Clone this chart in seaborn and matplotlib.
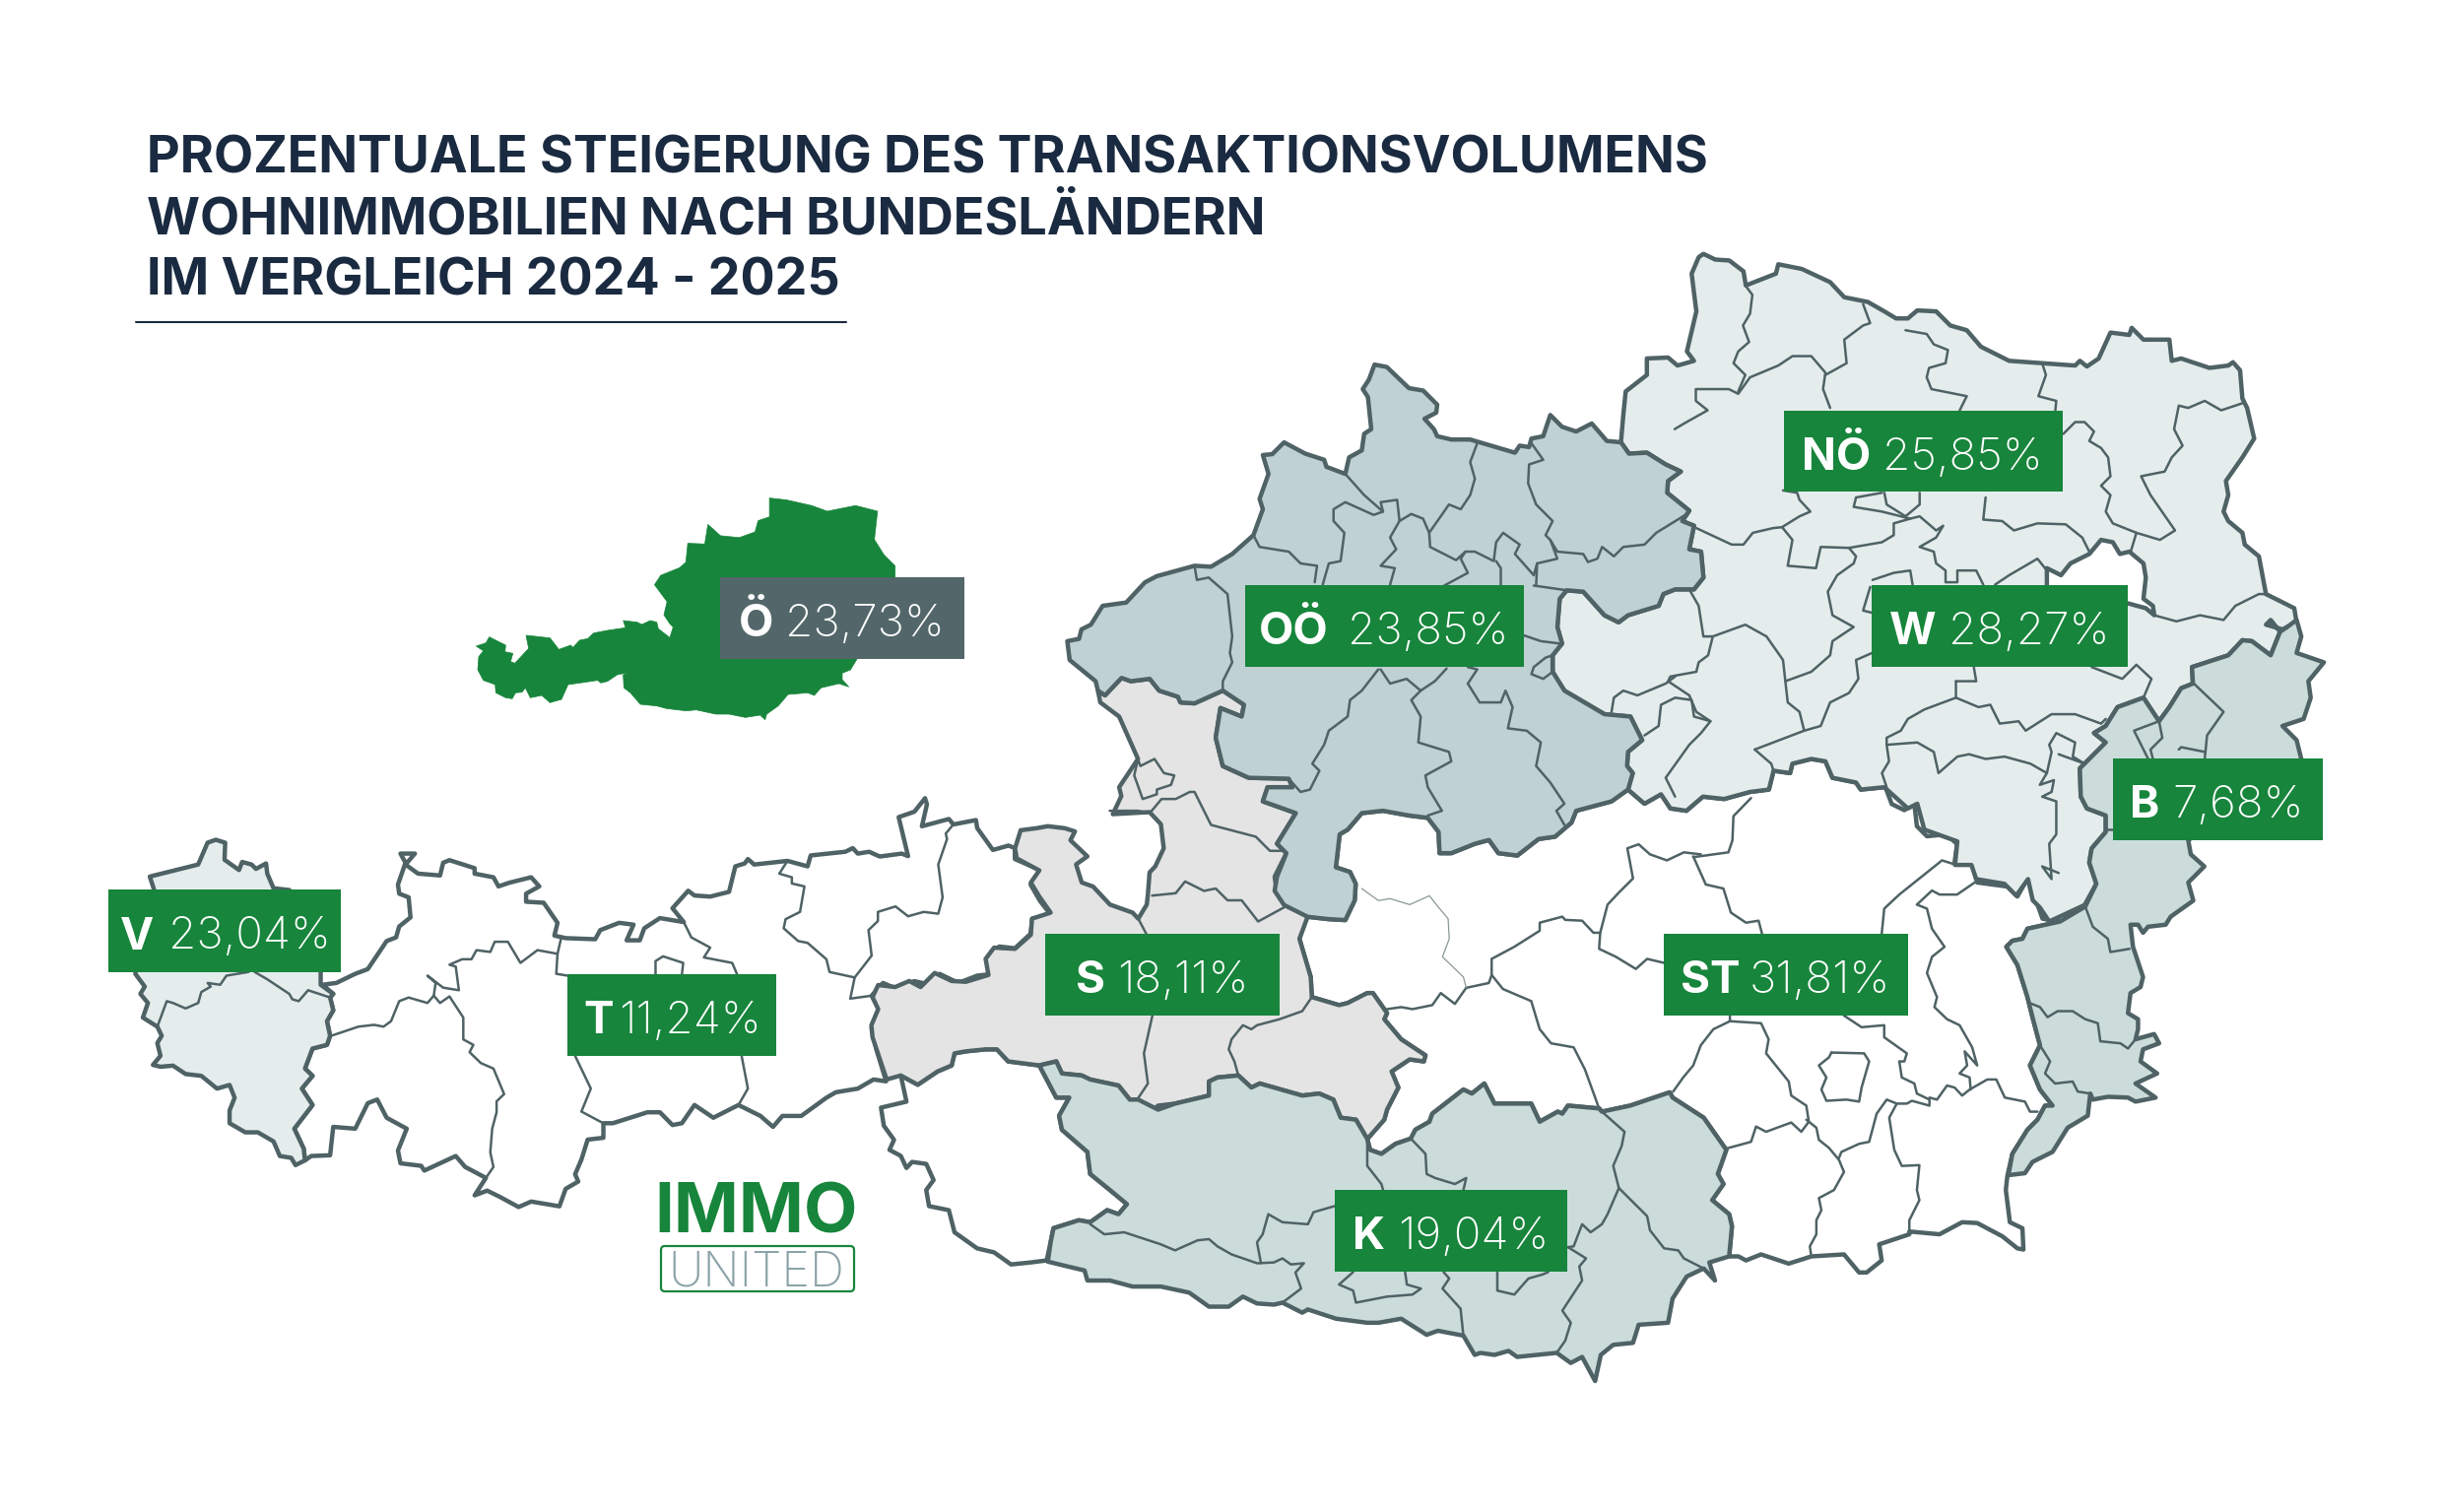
import matplotlib
matplotlib.use("Agg")
import matplotlib.pyplot as plt
from matplotlib.patches import FancyBboxPatch, Rectangle
import seaborn as sns

# ---------- data ----------
codes = ["V", "T", "S", "OÖ", "K", "ST", "NÖ", "W", "B", "Ö"]
values = [23.04, 11.24, 18.11, 23.85, 19.04, 31.81, 25.85, 28.27, 7.68, 23.73]
title_lines = ["PROZENTUALE STEIGERUNG DES TRANSAKTIONSVOLUMENS",
               "WOHNIMMOBILIEN NACH BUNDESLÄNDERN",
               "IM VERGLEICH 2024 - 2025"]

# ---------- crop frames used while tracing the outlines ----------
def frame(x0, y0, w, h):
    return lambda pts: [(x0 + a * w / 1568, y0 + b * h / 1568) for a, b in pts]
Z1 = frame(100, 100, 1000, 600)
Z2 = frame(1050, 230, 750, 750)
Z3 = frame(1700, 230, 750, 750)
Z4 = frame(80, 800, 1000, 580)
Z5 = frame(880, 800, 900, 640)
Z6 = frame(1650, 800, 800, 640)
Z7 = lambda pts: [(470 + a / 3, 620 + b / 3) for a, b in pts]

vorarlberg = Z4([(113,243),(190,210),(205,150),(218,142),(233,150),(232,197),(255,225),(260,203),(275,210),(282,222),(298,207),(300,235),(310,275),(335,280),(400,400),(385,505),(385,540),(405,565),(400,575),(405,610),(395,640),(400,680),(395,705),(372,715),(360,770),(372,790),(355,825),(372,870),(343,935),(358,990),(360,1022),(345,1035),(338,1015),(320,1010),(310,970),(285,945),(265,945),(240,920),(240,885),(248,850),(240,815),(220,825),(195,790),(170,785),(150,762),(130,765),(118,760),(130,735),(125,700),(132,680),(125,655),(102,630),(110,590),(98,565),(105,545),(90,510),(100,400),(120,280)])

tirol = Z4([(388,540),(410,535),(440,510),(460,497),(490,420),(505,410),(510,380),(528,355),(525,300),(510,290),(508,265),(520,205),(512,180),(535,180),(520,210),(540,235),(575,240),(580,205),(590,198),(630,220),(630,235),(660,245),(668,270),(685,260),(720,245),(733,270),(712,290),(712,312),(740,315),(762,370),(757,405),(775,412),(822,415),(830,390),(860,370),(883,375),(872,418),(893,418),(900,385),(925,357),(963,368),(945,330),(970,282),(980,295),(1005,298),(1035,285),(1045,215),(1060,207),(1065,195),(1075,210),(1128,200),(1160,215),(1165,185),(1220,175),(1232,165),(1240,180),(1258,175),(1275,188),(1310,180),(1320,187),(1305,80),(1330,65),(1347,28),(1350,45),(1342,105),(1385,85),(1392,100),(1428,88),(1430,110),(1455,170),(1480,158),(1490,165),(1490,195),(1530,225),(1515,265),(1530,310),(1548,350),(1518,358),(1515,400),(1490,440),(1465,435),(1447,465),(1455,510),(1430,515),(1400,535),(1370,510),(1355,540),(1330,530),(1300,550),(1280,535),(1262,570),(1275,610),(1262,660),(1270,720),(1285,805),(1265,800),(1240,825),(1205,835),(1190,850),(1150,900),(1120,900),(1105,930),(1085,900),(1050,870),(1010,905),(980,870),(960,920),(945,925),(925,890),(905,890),(850,920),(835,920),(835,960),(810,965),(800,1020),(790,1060),(795,1080),(775,1100),(765,1148),(720,1135),(700,1150),(670,1122),(650,1105),(630,1118),(648,1070),(615,1040),(600,1010),(550,1050),(545,1037),(512,1030),(508,995),(522,935),(490,905),(475,855),(460,865),(440,935),(405,930),(400,1008),(370,1010),(360,1022),(358,990),(343,935),(372,870),(355,825),(372,790),(360,770),(372,715),(395,705),(400,680),(395,640),(405,610),(400,575),(405,565)])

osttirol = Z5([(60,715),(90,738),(125,705),(150,690),(155,660),(175,655),(210,650),(230,650),(250,680),(305,690),(335,770),(358,770),(340,815),(345,850),(390,905),(395,960),(430,1000),(460,1035),(445,1060),(425,1050),(395,1080),(375,1075),(330,1095),(325,1130),(318,1175),(290,1180),(255,1185),(225,1155),(210,1150),(195,1145),(155,1105),(145,1050),(110,1040),(105,1000),(118,975),(105,935),(80,930),(70,945),(60,915),(40,900),(48,875),(30,840),(25,795),(70,780)])

salzburg = (Z5([(10,520),(20,490),(50,495),(75,480),(95,495),(120,460),(150,480),(175,482),(215,465),(210,425),(225,397),(262,400),(290,365),(292,325),(325,310),(305,270),(290,235),(305,205),(265,175),(262,150),(272,105),(300,100),(320,95),(350,100),(368,108),(360,130),(390,170),(370,190),(380,235),(400,245),(430,290),(470,310),(480,325),(495,290),(497,265),(500,210),(510,195),(525,150),(520,90),(500,60),(435,65),(450,20)])
    + Z2([(180,1190),(220,1130),(180,1040),(140,1010),(135,985),(150,995),(185,958),(205,965),(245,960),(265,985),(305,998),(310,1010),(340,1012),(400,985),(445,1015),(440,1040),(395,1022),(385,1085),(400,1145),(455,1170),(540,1172),(548,1190),(495,1190),(485,1220),(555,1245),(515,1310),(535,1330),(510,1380),(515,1415),(580,1465)])
    + Z5([(765,375),(785,470),(787,520),(835,540),(850,535),(885,510),(895,510),(920,560),(915,575),(945,625),(988,665),(985,680),(960,675),(928,705),(940,745),(920,800),(915,825),(885,873),(865,825),(838,820),(825,775),(800,760),(770,765),(695,735),(680,745),(657,715),(620,720),(605,730),(605,765),(545,785),(515,790),(505,803),(480,775),(465,775),(445,740),(395,725),(380,715),(345,710),(335,680),(305,690),(250,680),(230,650),(210,650),(175,655),(155,660),(150,690),(125,705),(90,738),(60,715),(35,725),(10,620),(8,590),(20,550)]))

kaernten = Z5([(305,690),(335,680),(345,710),(380,715),(395,725),(445,740),(465,775),(480,775),(515,800),(545,785),(605,765),(605,730),(620,720),(657,715),(680,745),(695,735),(770,765),(800,760),(825,775),(838,820),(865,825),(885,873),(890,900),(910,910),(935,885),(962,872),(970,850),(995,830),(1000,810),(1055,750),(1070,760),(1092,735),(1110,785),(1175,785),(1190,830),(1222,805),(1230,810),(1240,790),(1295,797),(1300,805),(1350,790),(1420,757),(1425,770),(1480,820),(1520,900),(1505,960),(1515,985),(1495,1025),(1525,1060),(1530,1090),(1525,1165),(1490,1180),(1500,1225),(1480,1195),(1450,1215),(1425,1270),(1417,1330),(1365,1335),(1355,1380),(1320,1385),(1298,1410),(1288,1475),(1265,1415),(1245,1430),(1220,1405),(1150,1415),(1135,1400),(1110,1410),(1085,1405),(1075,1410),(1055,1362),(1010,1350),(990,1360),(945,1320),(905,1330),(885,1330),(830,1320),(780,1297),(770,1305),(735,1280),(720,1285),(690,1282),(665,1265),(640,1290),(605,1290),(570,1255),(520,1240),(470,1240),(430,1225),(390,1225),(385,1200),(355,1190),(320,1178),(325,1130),(330,1095),(375,1075),(395,1080),(425,1050),(445,1060),(460,1035),(430,1000),(395,960),(390,905),(345,850),(340,815),(358,770),(335,770)])

oberoesterreich = Z2([(70,880),(95,875),(100,855),(120,845),(145,805),(195,798),(235,755),(260,742),(340,720),(375,722),(420,695),(465,655),(485,600),(478,578),(497,525),(485,485),(505,483),(530,458),(575,482),(615,495),(620,510),(660,525),(668,490),(695,475),(700,440),(715,430),(708,362),(697,345),(710,325),(722,293),(748,298),(795,343),(825,348),(855,378),(853,395),(828,408),(848,430),(855,445),(885,452),(925,452),(1020,480),(1030,465),(1050,468),(1055,450),(1080,445),(1095,400),(1120,425),(1150,435),(1183,418),(1215,455),(1245,458),(1262,482),(1300,480),(1340,505),(1372,520),(1345,540),(1343,565),(1390,603),(1375,625),(1400,635),(1390,685),(1415,690),(1420,745),(1400,770),(1360,770),(1335,780),(1325,805),(1260,825),(1240,840),(1210,825),(1165,775),(1130,772),(1115,790),(1110,850),(1120,885),(1100,910),(1100,945),(1125,985),(1210,1035),(1265,1040),(1290,1090),(1260,1115),(1258,1145),(1270,1160),(1260,1195),(1225,1220),(1150,1240),(1140,1265),(1105,1295),(1070,1300),(1025,1335),(985,1330),(965,1302),(935,1310),(885,1330),(860,1330),(858,1285),(835,1255),(795,1250),(740,1240),(695,1245),(665,1280),(648,1290),(640,1360),(670,1370),(682,1395),(680,1430),(660,1472),(625,1470),(580,1465),(530,1440),(510,1410),(515,1380),(535,1330),(515,1310),(555,1245),(485,1220),(495,1190),(548,1190),(540,1172),(455,1170),(400,1145),(385,1085),(395,1022),(440,1040),(445,1015),(400,985),(340,1012),(310,1010),(305,998),(265,985),(245,960),(205,965),(185,958),(150,995),(135,985),(130,965),(75,920)])

noe = (Z2([(1245,458),(1250,400),(1255,350),(1300,315),(1300,280),(1345,278),(1365,295),(1400,285),(1385,265),(1405,180),(1395,100),(1410,65),(1420,58),(1445,70),(1475,72),(1505,95),(1510,125)])
    + Z3([(215,100),(220,80),(270,90),(330,118),(360,150),(410,160),(445,180),(470,195),(495,195),(515,178),(555,180),(585,210),(620,220),(650,255),(710,285),(780,290),(850,295),(860,285),(875,297),(900,280),(925,225),(965,230),(970,215),(995,240),(1050,240),(1055,285),(1075,280),(1135,300),(1175,295),(1185,288),(1200,305),(1205,365),(1215,385),(1230,450),(1205,490),(1170,540),(1175,570),(1165,605),(1175,625),(1205,650),(1210,675),(1240,700),(1255,780),(1315,810),(1320,840),(1290,855),(1255,845),(1265,835),(1285,860),(1265,910),(1225,880),(1205,878),(1175,910),(1098,935),(1100,970),(1075,980),(1050,1020),(1028,1050),(995,1000),(940,1020),(915,1060),(890,1075),(915,1095),(860,1150),(862,1210),(875,1235),(915,1250),(915,1285),(885,1320),(880,1350),(895,1395),(870,1440),(795,1475),(775,1445),(760,1430),(750,1385),(725,1420),(700,1395),(640,1385),(630,1355),(595,1355),(600,1305),(530,1280),(515,1225),(495,1235),(445,1190),(395,1195),(385,1180),(335,1170),(320,1135),(290,1130),(250,1140),(245,1160),(210,1155),(200,1195),(160,1200),(105,1215),(60,1210),(25,1240)])
    + Z2([(1350,1235),(1330,1205),(1295,1225),(1260,1195),(1270,1160),(1258,1145),(1260,1115),(1290,1090),(1265,1040),(1210,1035),(1125,985),(1100,945),(1100,910),(1120,885),(1110,850),(1115,790),(1130,772),(1165,775),(1210,825),(1240,840),(1260,825),(1325,805),(1335,780),(1360,770),(1400,770),(1420,745),(1415,690),(1390,685),(1400,635),(1375,625),(1390,603),(1343,565),(1345,540),(1372,520),(1340,505),(1300,480),(1262,482)]))

wien = Z3([(790,725),(820,740),(840,715),(880,695),(905,665),(930,670),(945,695),(965,690),(995,715),(1000,745),(995,790),(1015,805),(1018,825),(1000,810),(963,800),(790,790)])

burgenland = (Z3([(1098,935),(1175,910),(1205,878),(1225,880),(1265,910),(1285,860),(1300,850),(1320,835),(1330,870),(1320,905),(1378,925),(1345,965),(1350,1000),(1335,1045),(1290,1060),(1320,1090),(1330,1130)])
    + Z6([(1120,130),(1125,165),(1152,195),(1120,235),(1130,280),(1085,320),(1075,340),(1040,345),(1030,360),(1020,340),(1005,340),(1010,395),(1030,470),(1025,495),(1005,510),(1000,560),(1020,575),(1020,600),(1015,625),(1052,612),(1062,635),(1030,650),(1025,680),(1058,710),(1015,735),(1055,770),(1015,780),(1000,770),(960,768),(930,775),(925,760),(920,815),(880,845),(850,905),(810,930),(795,958),(762,963),(770,910),(800,850),(820,825),(835,790),(850,790),(825,750),(805,690),(825,640),(810,570),(800,520),(780,440),(758,395),(770,380),(790,375),(800,350),(865,332),(915,295)])
    + Z3([(895,1395),(880,1350),(885,1320),(915,1285),(915,1250),(875,1235),(862,1210),(860,1150),(915,1095),(890,1075),(915,1060),(940,1020),(995,1000),(1028,1050),(1050,1020),(1075,980),(1100,970)]))

steiermark = (Z5([(778,320),(765,375),(785,470),(787,520),(835,540),(850,535),(885,510),(895,510),(920,560),(915,575),(945,625),(988,665),(985,680),(960,675),(928,705),(940,745),(920,800),(915,825),(885,873),(890,900),(910,910),(935,885),(962,872),(970,850),(995,830),(1000,810),(1055,750),(1070,760),(1092,735),(1110,785),(1175,785),(1190,830),(1222,805),(1230,810),(1240,790),(1295,797),(1300,805),(1350,790),(1420,757),(1425,770),(1480,820),(1520,900),(1505,960),(1515,985),(1495,1025),(1525,1060),(1530,1090),(1525,1165)])
    + Z6([(225,1165),(240,1175),(270,1160),(325,1183),(370,1165),(435,1160),(465,1205),(480,1205),(510,1175),(505,1135),(565,1110),(565,1103),(625,1110),(670,1080),(700,1082),(750,1115),(780,1145),(792,1148),(790,1095),(765,1080),(757,1000),(760,965),(770,910),(800,850),(820,825),(835,790),(850,790),(825,750),(805,690),(825,640),(810,570),(800,520),(780,440),(758,395),(770,380),(790,375),(800,350),(865,332),(830,325),(820,290),(835,265),(810,235),(800,225),(780,270),(760,245),(700,235),(690,190),(655,185),(660,140),(640,115),(600,120),(580,95),(575,40),(555,55),(530,40),(518,0)])
    + Z3([(445,1190),(395,1195),(385,1180),(335,1170),(320,1135),(290,1130),(250,1140),(245,1160),(210,1155),(200,1195),(160,1200),(105,1215),(60,1210),(25,1240)])
    + Z2([(1350,1235),(1330,1205),(1295,1225),(1260,1195),(1225,1220),(1150,1240),(1140,1265),(1105,1295),(1070,1300),(1025,1335),(985,1330),(965,1302),(935,1310),(885,1330),(860,1330),(858,1285),(835,1255),(795,1250),(740,1240),(695,1245),(665,1280),(648,1290),(640,1360),(670,1370),(682,1395),(680,1430),(660,1472),(625,1470),(580,1465)]))

oesterreich = (Z1([(1068,1110),(1068,1060),(1095,1065),(1135,1080),(1160,1095),(1205,1080),(1240,1095),(1235,1170),(1250,1210),(1268,1240),(1268,1270)])
    + Z7([(1300,60),(1200,147),(1180,180),(1155,190),(1155,210),(1175,232),(1145,222),(1090,235),(1070,258),(1050,250),(990,255),(960,290),(925,315),(920,332),(905,318),(860,325),(810,315),(770,315),(710,302),(680,305),(620,298),(590,290),(540,285),(510,250),(490,235),(488,195),(505,188),(470,195),(440,215),(420,220),(410,212),(370,218),(320,225),(300,270),(265,280),(240,258),(205,265),(190,235),(180,248),(160,250),(150,268),(130,265),(100,250),(98,225),(62,212),(45,180),(48,140),(62,122),(40,108),(70,98),(80,80),(110,95),(130,105),(128,125),(152,130),(145,155),(158,160),(200,115),(192,75),(220,78),(265,83),(292,118),(328,105),(335,112),(355,90),(380,85),(398,68),(440,60),(495,52),(488,30),(530,35),(545,42),(570,30),(590,35),(595,55),(630,82),(640,50),(630,40)])
    + Z1([(900,1370),(905,1335),(885,1290),(895,1265),(925,1245),(935,1230),(938,1180),(965,1182),(970,1130),(990,1160),(1020,1165),(1045,1150),(1050,1120)]))

inner_borders = [
    # Vorarlberg
    Z4([(125,655),(140,585),(150,590),(170,605),(190,590),(195,560),(210,545),(205,535),(225,540),(235,515),(270,505)]),
    Z4([(280,505),(300,525),(335,565),(340,580),(350,585),(365,555),(400,575)]),
    # Tirol
    Z4([(402,680),(445,655),(470,650),(485,655),(497,640),(510,585),(525,575),(555,590),(565,570),(568,535),(555,515),(580,548),(605,555),(600,490),(590,485),(610,470),(625,470),(633,445),(655,450),(662,422),(683,422),(703,480),(730,445),(762,455),(768,410)]),
    Z4([(565,570),(575,590),(590,572),(612,630),(612,690),(628,705),(622,725),(640,755),(660,770),(677,840),(665,860),(665,890),(658,935),(655,1000),(660,1040),(648,1070)]),
    Z4([(762,455),(760,510),(778,515)]),
    Z4([(790,735),(815,825),(800,888),(835,920)]),
    Z4([(1055,735),(1065,825),(1050,870)]),
    Z4([(963,368),(975,410),(1005,438),(995,465),(1040,480),(1048,512)]),
    Z4([(918,512),(918,475),(930,462),(962,480),(960,512)]),
    Z4([(1128,200),(1115,235),(1135,245),(1135,262),(1155,270),(1148,340),(1125,360),(1122,385),(1145,420),(1160,425),(1190,470),(1195,505),(1235,520),(1262,460),(1257,390),(1272,365),(1272,340),(1300,325),(1320,352),(1345,340),(1368,345),(1375,300),(1368,210),(1382,140),(1380,125),(1392,100)]),
    Z4([(1235,520),(1228,578),(1262,570)]),
    # Salzburg
    Z5([(480,325),(495,365)]),
    Z5([(505,566),(490,660),(497,735),(478,775)]),
    Z5([(787,520),(770,555),(730,575),(690,590),(680,600),(665,590),(645,625),(640,650),(650,680),(657,715)]),
    Z2([(250,1420),(300,1415),(320,1390),(360,1410),(385,1405),(410,1430),(440,1430),(475,1475),(530,1445)]),
    Z2([(220,1130),(225,1145),(255,1130),(275,1160),(297,1165),(290,1185),(260,1195),(260,1205),(230,1215),(212,1165),(220,1130)]),
    Z2([(160,1240),(220,1240),(245,1245),(270,1215),(300,1215),(330,1200),(340,1200),(375,1270),(470,1295),(500,1325),(530,1325)]),
    # Kaernten
    Z5([(395,1085),(420,1110),(455,1105),(520,1135),(545,1150),(585,1125),(605,1122),(620,1140),(645,1160),(690,1182),(720,1180),(735,1170),(750,1185),(773,1182),(758,1205),(768,1245),(735,1280)]),
    Z5([(697,1182),(690,1130),(700,1110),(710,1060),(735,1080),(780,1085),(790,1055),(827,1040)]),
    Z5([(885,873),(885,940),(910,985),(913,1000)]),
    Z5([(962,872),(988,910),(990,960),(1005,970),(1040,985),(1060,970),(1055,1000)]),
    Z5([(1300,805),(1340,855),(1335,890),(1320,940),(1330,995),(1310,1060),(1300,1085),(1280,1105),(1265,1085),(1250,1140),(1240,1142)]),
    Z5([(1330,995),(1380,1065),(1385,1100),(1410,1145),(1435,1150),(1445,1170),(1480,1195)]),
    Z5([(1240,1142),(1272,1170),(1260,1190),(1265,1225),(1230,1300),(1245,1330),(1235,1375),(1220,1405)]),
    Z5([(1020,1204),(1030,1220),(1018,1245),(1050,1295),(1055,1362)]),
    Z5([(860,1204),(835,1235),(860,1250),(865,1280),(920,1265),(965,1260),(980,1245),(955,1235),(952,1204)]),
    Z5([(1115,1204),(1115,1250),(1145,1260),(1170,1220),(1195,1210),(1205,1204)]),
    # Oberoesterreich
    Z2([(340,720),(345,750),(370,745),(410,780),(415,825),(420,870),(415,905),(420,925),(400,965),(400,985)]),
    Z2([(465,655),(478,680),(540,690),(565,715),(600,720),(595,755)]),
    Z2([(660,525),(700,570),(740,605),(720,612),(660,585),(635,600),(635,625),(658,650),(650,710),(625,715),(612,760)]),
    Z2([(740,605),(735,585),(770,580),(775,625),(755,660),(768,685),(735,720),(765,725),(755,760)]),
    Z2([(775,625),(800,610),(825,620),(838,650),(840,680),(895,708),(915,690),(935,690),(975,710),(980,670),(995,650),(1030,675),(1020,695),(1060,740),(1067,715),(1110,705),(1095,665),(1085,655),(1100,625),(1065,590),(1048,545),(1050,505),(1080,495),(1055,460)]),
    Z2([(838,650),(880,590),(905,600),(925,570),(935,535),(925,500),(940,460)]),
    Z2([(1095,665),(1110,690),(1165,695),(1175,712),(1195,705),(1205,680),(1230,700),(1250,680),(1295,675),(1320,650),(1385,610)]),
    Z2([(915,690),(905,705),(920,735),(870,762)]),
    Z2([(980,710),(990,725),(990,762)]),
    Z2([(1067,715),(1065,762)]),
    Z2([(1060,762),(1130,772)]),
    Z2([(1040,868),(1075,880),(1115,885)]),
    Z2([(1100,910),(1085,915),(1060,935),(1055,950),(1080,960),(1100,945)]),
    Z2([(730,940),(695,985),(670,1005),(665,1040),(625,1070),(615,1100),(590,1140),(605,1155),(585,1195),(565,1200),(540,1172)]),
    Z2([(735,940),(755,970),(790,960),(820,985),(800,1005),(820,1040),(815,1095),(880,1115),(885,1135),(830,1165),(835,1190),(865,1240),(835,1250)]),
    Z2([(820,985),(850,965),(875,938)]),
    Z2([(920,935),(940,940),(920,970),(945,1010),(990,1010),(1000,985),(1015,1020),(1005,1065),(1045,1070),(1075,1095),(1065,1145),(1095,1180),(1125,1225),(1108,1240),(1125,1270)]),
    # Niederoesterreich
    Z3([(150,125),(165,145),(160,185),(145,210),(158,245),(135,265),(125,290),(150,315),(135,350)]),
    Z3([(0,430),(20,418),(70,390),(45,370),(45,345),(115,345),(135,355),(160,320),(220,295),(250,275),(290,275),(320,310),(315,345),(330,385)]),
    Z3([(320,315),(365,290),(360,240),(400,210),(415,205),(400,165)]),
    Z3([(490,220),(535,228),(550,250),(580,262),(575,290),(540,300),(535,320),(545,345),(620,360),(605,390)]),
    Z3([(780,290),(788,315),(772,360),(810,370),(808,390)]),
    Z3([(825,440),(850,415),(870,415),(890,435),(880,455),(905,470),(920,490),(925,530),(905,550),(925,570),(915,605),(930,630),(980,650),(1030,665),(1062,645),(1010,570),(990,530),(1040,520),(1055,490),(1078,465),(1060,430),(1070,380),(1090,385),(1125,370),(1160,390),(1205,375)]),
    Z3([(980,650),(968,690)]),
    Z3([(230,560),(260,565),(265,580),(288,605),(265,615),(228,638),(250,665),(240,720),(300,725),(310,680),(370,682),(440,670),(465,655),(465,630),(500,620),(440,605),(380,595),(385,575),(440,565)]),
    Z3([(445,565),(450,590),(490,615),(520,590),(520,565)]),
    Z3([(500,620),(520,615),(555,645),(570,635),(555,660),(520,680),(550,690),(555,715),(575,730),(575,755),(600,755),(600,730),(640,730),(655,760)]),
    Z3([(660,575),(655,622),(695,625),(720,645),(770,630),(830,632),(865,660),(880,690)]),
    Z3([(370,682),(385,700),(380,715),(345,740),(325,775),(335,825),(380,850),(335,880),(330,910),(290,945),(235,965),(230,920),(195,870),(150,845),(81,870),(71,910),(51,925),(46,945),(-9,955),(-14,965),(31,995),(46,1030),(76,1050),(56,1075),(31,1100),(-19,1170),(1,1210)]),
    Z2([(1225,1030),(1230,1000),(1250,985),(1280,995),(1340,970),(1360,955)]),
    Z2([(1295,1080),(1325,1060),(1330,1015),(1360,1000),(1395,1005),(1400,1040),(1435,1050)]),
    Z3([(46,640),(121,675),(146,675),(166,650),(209,640),(228,638)]),
    Z3([(31,770),(51,805),(61,870),(81,870)]),
    Z3([(235,965),(240,1010),(265,1030),(275,1070)]),
    Z3([(170,1110),(275,1070),(310,1060),(330,1010),(370,990),(390,960),(385,920),(419,905)]),
    Z3([(170,1110),(205,1140),(210,1155)]),
    Z3([(597,965),(597,1000),(645,1020),(670,1015),(690,1055),(730,1050),(745,1070),(800,1035),(850,1035),(905,1055),(915,1045)]),
    Z3([(597,1000),(530,1025),(495,1045),(480,1070),(450,1085),(450,1100),(515,1095),(550,1115),(560,1160),(600,1125),(625,1120),(660,1130),(700,1125),(755,1140),(790,1160),(775,1185),(805,1175),(800,1200),(780,1210),(810,1220),(810,1290),(795,1310),(800,1385),(780,1358),(815,1372)]),
    Z3([(790,1160),(800,1115),(795,1100),(810,1075),(850,1095),(845,1125),(870,1140),(815,1120)]),
    Z3([(450,1100),(455,1135),(440,1160),(450,1190)]),
    Z3([(597,965),(640,965),(635,935)]),
    Z3([(885,935),(950,960),(980,930),(1012,960),(995,1000)]),
    Z3([(420,750),(465,735),(500,730),(505,760)]),
    Z3([(415,765),(400,815),(420,820)]),
    Z3([(680,760),(710,740),(770,705),(790,730)]),
    Z3([(1018,825),(1065,838),(1115,825),(1165,835),(1190,805),(1240,780),(1255,780)]),
    # Burgenland
    Z3([(1102,970),(1165,1030),(1130,1080),(1125,1130)]),
    Z3([(1028,1050),(1035,1085),(1010,1110),(1015,1130)]),
    Z3([(1028,1050),(975,1070),(1005,1130)]),
    Z3([(1070,1110),(1075,1105),(1125,1115)]),
    Z3([(915,1280),(930,1280)]),
    Z6([(915,295),(930,345),(960,375),(965,408),(1003,400)]),
    Z6([(805,535),(825,545),(840,570),(860,555),(890,555),(915,575),(940,585),(945,630),(985,635),(1000,648),(1015,625)]),
    Z6([(825,640),(845,680),(835,710),(855,735),(890,730),(900,755),(925,760)]),
    # Steiermark
    Z5([(1060,497),(1100,485),(1105,465),(1105,425),(1145,395),(1190,355),(1190,335),(1230,320),(1235,328),(1265,330),(1285,360),(1297,360),(1310,290),(1330,260),(1355,225),(1345,150),(1365,140),(1385,165),(1415,180),(1445,160),(1475,165)]),
    Z5([(1105,465),(1125,500),(1175,530),(1190,600),(1210,635),(1250,645),(1270,700),(1295,797)]),
    Z5([(1060,497),(1040,537),(1015,510),(1000,540),(965,550),(945,545),(920,550)]),
    Z5([(1297,360),(1295,400),(1325,420),(1360,450),(1380,425),(1410,435)]),
    Z6([(135,170),(160,240),(195,250),(210,310),(240,335),(265,330),(272,363)]),
    Z6([(250,25),(215,70),(213,130),(205,160),(135,172)]),
    Z6([(208,566),(208,580),(175,600),(150,640),(135,690),(115,720),(95,755)]),
    Z6([(208,580),(270,585),(285,625),(280,660),(325,730),(330,765),(360,790),(365,830),(350,855),(330,832),(280,855),(260,842),(250,880),(200,897)]),
    Z6([(360,825),(380,845),(385,875),(405,895),(425,925),(435,955),(415,1000),(385,1020),(390,1050),(380,1075),(380,1110),(367,1140),(370,1165)]),
    Z6([(425,920),(430,905),(465,885),(485,880),(500,810),(520,775),(540,785),(525,820),(535,900),(550,940),(585,938),(580,1000),(585,1025),(565,1075),(565,1103)]),
    Z6([(410,658),(475,660),(485,680),(470,745),(465,780),(440,775),(400,778),(390,750),(400,720),(385,690),(405,670),(410,658)]),
    Z6([(435,566),(470,595),(515,590),(515,620),(560,660),(555,680),(545,680),(550,720),(575,735),(580,760),(605,775),(605,790),(570,778),(560,785),(540,785)]),
    Z6([(605,770),(620,775),(640,740),(655,745),(670,765),(685,750),(720,725),(738,725),(755,770),(795,780),(805,805),(820,805)]),
    Z6([(687,750),(685,720),(665,710),(680,690),(675,655),(700,690),(690,645),(665,590),(640,575),(615,545),(620,520),(600,460),(610,420),(635,395),(610,350),(600,300),(580,290),(610,255),(625,265),(660,265),(695,235)]),
    Z6([(510,363),(515,300),(545,265),(565,245),(630,180),(655,190)]),
]
hairline = Z5([(875,250),(905,280),(925,275),(960,290),(995,268),(1010,295),(1028,325),(1030,375),(1018,420),(1055,470),(1060,497)])

# ---------- styles ----------
sns.set_theme(style="white")
plt.rcParams["font.family"] = ["Inter", "DejaVu Sans"]
map_colors = sns.color_palette(["#e4edec", "#bfd1d2", "#e4e4e4", "#cbdcdb", "#ffffff"])
LINE = "#4f6265"; GREEN = "#17853b"; SLATE = "#53676a"; NAVY = "#1a2a40"

fig, ax = plt.subplots(figsize=(24.8, 15.35), dpi=100)
ax.set_position([0, 0, 1, 1])
ax.set_xlim(0, 2480); ax.set_ylim(1535, 0); ax.axis("off")
sns.despine(ax=ax, left=True, bottom=True)

regions = [(tirol, 4), (osttirol, 4), (steiermark, 4), (vorarlberg, 0), (noe, 0),
           (salzburg, 2), (kaernten, 3), (burgenland, 3), (oberoesterreich, 1), (wien, 4)]
for poly, c in regions:
    xs, ys = zip(*poly)
    ax.fill(xs, ys, facecolor=map_colors[c], edgecolor=LINE, lw=3.2, joinstyle="round", zorder=2)
for line in inner_borders:
    xs, ys = zip(*line)
    ax.plot(xs, ys, color=LINE, lw=1.8, solid_joinstyle="round", zorder=3)
xs, ys = zip(*hairline)
ax.plot(xs, ys, color="#8a9799", lw=0.9, zorder=3)

xs, ys = zip(*oesterreich)
ax.fill(xs, ys, facecolor=GREEN, edgecolor=GREEN, lw=0.5, zorder=2)

# ---------- labels ----------
box_x0 = [110, 576, 1061, 1264, 1355, 1689, 1811, 1900, 2145, 731]
box_x1 = [346, 788, 1299, 1547, 1591, 1937, 2094, 2160, 2358, 979]
box_y0 = [903, 989, 948, 594, 1208, 948, 417, 594, 770, 586]
box_y1 = [987, 1072, 1031, 677, 1291, 1031, 499, 677, 853, 669]
code_x = [122, 592, 1092, 1278, 1373, 1706, 1829, 1918, 2162, 750]
value_x1 = [336, 773, 1268, 1532, 1572, 1919, 2074, 2142, 2339, 959]
for i, (code, val) in enumerate(zip(codes, values)):
    ax.add_patch(Rectangle((box_x0[i], box_y0[i]), box_x1[i] - box_x0[i], box_y1[i] - box_y0[i],
                           facecolor=SLATE if code == "Ö" else GREEN, edgecolor="none", zorder=5))
    ym = (box_y0[i] + box_y1[i]) / 2 + 2
    ax.text(code_x[i], ym, code, color="white", fontsize=33, fontweight="bold",
            ha="left", va="center_baseline", zorder=6)
    ax.text(value_x1[i], ym, f"{val:.2f}%".replace(".", ","), color="white", fontsize=33,
            fontweight="light", ha="right", va="center_baseline", zorder=6)

# ---------- title ----------
for line, y in zip(title_lines, [175, 237.5, 300]):
    ax.text(149, y, line, color=NAVY, fontsize=37.5, fontweight="bold", ha="left", va="baseline")
ax.plot([138, 859], [326.5, 326.5], color=NAVY, lw=1.5)

# ---------- logo ----------
ax.text(768, 1252, "IMMO", color=GREEN, fontsize=51, fontweight="bold", ha="center", va="baseline")
ax.add_patch(FancyBboxPatch((671, 1265), 196, 46, boxstyle="round,pad=0,rounding_size=4",
                            facecolor="white", edgecolor=GREEN, lw=1.6))
ax.text(768, 1305, "UNITED", color="#8ba3a8", fontsize=35, fontweight="light", ha="center", va="baseline")

fig.savefig("out.png", dpi=100, facecolor="white")
